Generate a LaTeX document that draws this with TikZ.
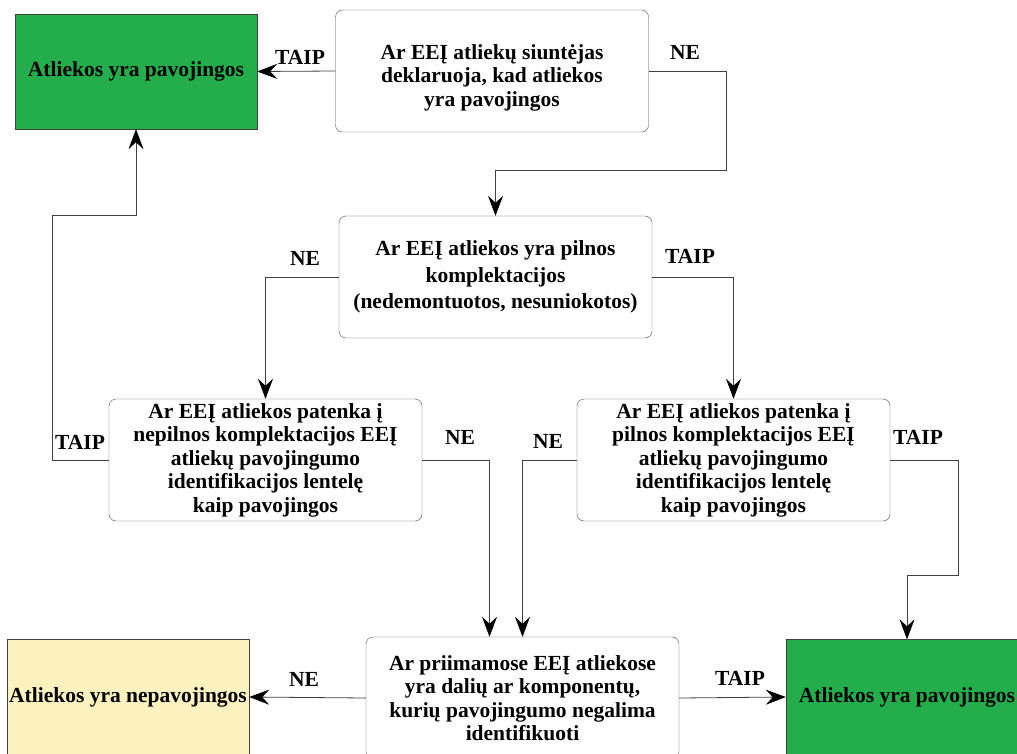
\documentclass[tikz,border=0pt]{standalone}
\usepackage{fontspec}
\setmainfont{Liberation Serif}
\usetikzlibrary{arrows.meta}

\definecolor{pavgreen}{RGB}{35,173,75}
\definecolor{nepavyellow}{RGB}{252,242,192}

\tikzset{
  txt/.style={font=\bfseries\fontsize{21.5}{23.5}\selectfont},
  qbox/.style={txt, draw=black!70, rounded corners=7pt, fill=white, minimum width=313pt, minimum height=122pt, align=center, inner sep=2pt},
  endbox/.style={txt, draw=black!75, minimum width=242pt, minimum height=115pt, align=center, inner sep=0pt},
  lbl/.style={txt, inner sep=1pt},
  flow/.style={draw=black!75, line width=0.8pt, -{Stealth[length=20pt,width=15pt,inset=7pt,black]}}
}

\begin{document}
\begin{tikzpicture}[x=1pt,y=-1pt]

\useasboundingbox (0,0) rectangle (1017,754);
\clip (0,0) rectangle (1017,754);
\fill[white] (0,0) rectangle (1017,754);

% boxes
\node [endbox, fill=pavgreen] (g1) at (136,71.5) {Atliekos yra pavojingos};
\node [qbox] (q1) at (492,71) {\rule{0pt}{28pt}Ar EEĮ atliekų siuntėjas\\deklaruoja, kad atliekos\\yra pavojingos};
\node [qbox] (q2) at (495.5,277) {Ar EEĮ atliekos yra pilnos\\[3pt]komplektacijos\\[3pt](nedemontuotos, nesuniokotos)};
\node [qbox] (q3) at (265.5,460) {Ar EEĮ atliekos patenka į\\nepilnos komplektacijos EEĮ\\atliekų pavojingumo\\identifikacijos lentelę\\kaip pavojingos};
\node [qbox] (q4) at (733.5,460) {Ar EEĮ atliekos patenka į\\pilnos komplektacijos EEĮ\\atliekų pavojingumo\\identifikacijos lentelę\\kaip pavojingos};
\node [qbox] (q5) at (522.5,698) {Ar priimamose EEĮ atliekose\\yra dalių ar komponentų,\\kurių pavojingumo negalima\\identifikuoti};
\node [endbox, fill=nepavyellow] (y1) at (128,697) {Atliekos yra nepavojingos};
\node [endbox, fill=pavgreen] (g3) at (907,697) {Atliekos yra pavojingos};

% labels
\node [lbl] (t1) at (300,57) {TAIP};
\node [lbl] (n1) at (685,52) {NE};
\node [lbl] (n2) at (305,258) {NE};
\node [lbl] (t2) at (690,256) {TAIP};
\node [lbl] (t3) at (80,442) {TAIP};
\node [lbl] (n3) at (460,437) {NE};
\node [lbl] (n4) at (548,441) {NE};
\node [lbl] (t4) at (918,437) {TAIP};
\node [lbl] (n5) at (304,679) {NE};
\node [lbl] (t5) at (740,678) {TAIP};

% connectors
\draw [flow] (q1.west) -- (g1.east);
\draw [flow] (q1.east) -- ++(78,0) -- ++(0,99) -| (q2.north);
\draw [flow] (q2.west) -| (q3.north);
\draw [flow] (q2.east) -| (q4.north);
\draw [flow] (q3.west) -- ++(-56,0) -- ++(0,-245) -| (g1.south);
\draw [flow] (q3.east) -| ([xshift=-33pt]q5.north);
\draw [flow] (q4.west) -| (q5.north);
\draw [flow] (q4.east) -- ++(68,0) -- ++(0,115) -| (g3.north);
\draw [flow] (q5.west) -- (y1.east);
\draw [flow] (q5.east) -- (g3.west);

\end{tikzpicture}
\end{document}
